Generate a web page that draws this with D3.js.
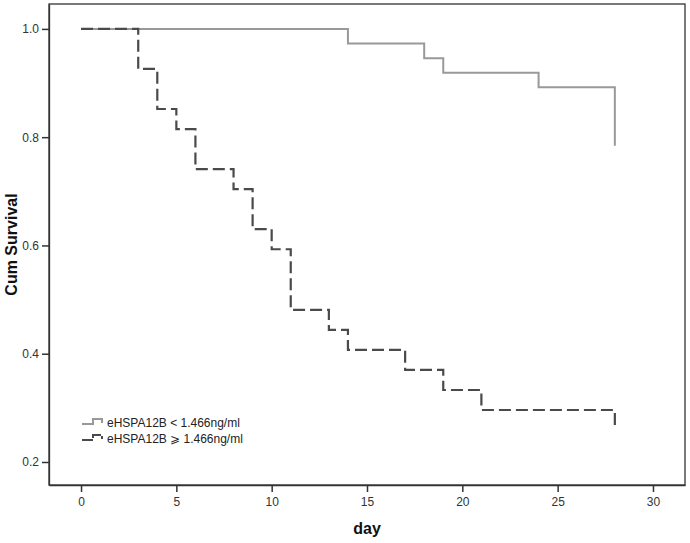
<!DOCTYPE html>
<html>
<head>
<meta charset="utf-8">
<script src="https://cdn.jsdelivr.net/npm/d3@7"></script>
<style>
  body { margin: 0; background: #fff; }
  svg { font-family: 'Liberation Sans', Arial, sans-serif; }
</style>
</head>
<body>
<div id="container"></div>
<script>
const w = 690,
  h = 543,
  plotLeft = 49,
  plotRight = 685,
  plotTop = 4,
  plotBottom = 485;

// survival steps
const lowDays = [0, 14, 18, 19, 24, 28];
const lowSurv = [1, 0.973, 0.946, 0.919, 0.892, 0.784];
const highDays = [0, 3, 4, 5, 6, 8, 9, 10, 11, 13, 14, 17, 19, 21, 28];
const highSurv = [1, 0.926, 0.852, 0.815, 0.741, 0.704, 0.63, 0.593, 0.481, 0.444, 0.407, 0.37, 0.333, 0.296, 0.259];

const xTicks = [0, 5, 10, 15, 20, 25, 30];
const yTicks = [0.2, 0.4, 0.6, 0.8, 1.0];
const groupLabels = ['eHSPA12B < 1.466ng/ml', 'eHSPA12B \u2A7E 1.466ng/ml'];

const svg = d3
  .select('#container')
  .append('svg')
  .attr('width', w)
  .attr('height', h);

const x = d3.scaleLinear().domain([-1.68, 31.68]).range([plotLeft, plotRight]);
const y = d3.scaleLinear().domain([0.1575, 1.046]).range([plotBottom, plotTop]);

// frame
svg
  .append('rect')
  .attr('x', plotLeft)
  .attr('y', plotTop)
  .attr('width', plotRight - plotLeft)
  .attr('height', plotBottom - plotTop)
  .attr('fill', 'none')
  .attr('stroke', '#333')
  .attr('stroke-width', 1.3);

const xAxis = d3.axisBottom(x).tickValues(xTicks).tickSize(7).tickSizeOuter(0).tickPadding(5);
const yAxis = d3.axisLeft(y).tickValues(yTicks).tickSize(7).tickSizeOuter(0).tickPadding(3).tickFormat(d3.format('.1f'));

const gx = svg
  .append('g')
  .attr('transform', 'translate(0,' + plotBottom + ')')
  .call(xAxis);
const gy = svg
  .append('g')
  .attr('transform', 'translate(' + plotLeft + ',0)')
  .call(yAxis);

[gx, gy].forEach((g) => {
  g.select('.domain').attr('stroke', '#333').attr('stroke-width', 1.3);
  g.selectAll('.tick line').attr('stroke', '#333').attr('stroke-width', 1.5);
  g.selectAll('.tick text')
    .attr('fill', '#333')
    .style('font-size', '12px')
    .style('font-family', "'Liberation Sans', Arial, sans-serif");
});

svg
  .append('text')
  .text('Cum Survival')
  .attr('transform', 'translate(17,' + (plotTop + plotBottom) / 2 + ') rotate(-90)')
  .attr('text-anchor', 'middle')
  .style('font-size', '16px')
  .style('font-weight', 'bold')
  .attr('fill', '#111');

svg
  .append('text')
  .text('day')
  .attr('x', (plotLeft + plotRight) / 2)
  .attr('y', 534)
  .attr('text-anchor', 'middle')
  .style('font-size', '16px')
  .style('font-weight', 'bold')
  .attr('fill', '#111');

const line = d3
  .line()
  .x((d) => x(d[0]))
  .y((d) => y(d[1]))
  .curve(d3.curveStepAfter);

svg
  .append('path')
  .datum(d3.zip(lowDays, lowSurv))
  .attr('d', line)
  .attr('fill', 'none')
  .attr('stroke', '#999')
  .attr('stroke-width', 2);

svg
  .append('path')
  .datum(d3.zip(highDays, highSurv))
  .attr('d', line)
  .attr('fill', 'none')
  .attr('stroke', '#4a4a4a')
  .attr('stroke-width', 2.2)
  .attr('stroke-dasharray', '12,5');

// legend
const legend = svg.append('g').attr('transform', 'translate(82,0)');
const legendRows = [
  { y: 424, color: '#999', dash: null },
  { y: 440, color: '#4a4a4a', dash: '11,2' },
];
legendRows.forEach((r, i) => {
  legend
    .append('path')
    .attr('d', 'M0,' + r.y + 'H11V' + (r.y - 5) + 'H20V' + (r.y - 1))
    .attr('fill', 'none')
    .attr('stroke', r.color)
    .attr('stroke-width', 2)
    .attr('stroke-dasharray', r.dash);
  legend
    .append('text')
    .text(groupLabels[i])
    .attr('x', 25)
    .attr('y', r.y + 3)
    .style('font-size', '12px')
    .attr('fill', '#222');
});
</script>
</body>
</html>
